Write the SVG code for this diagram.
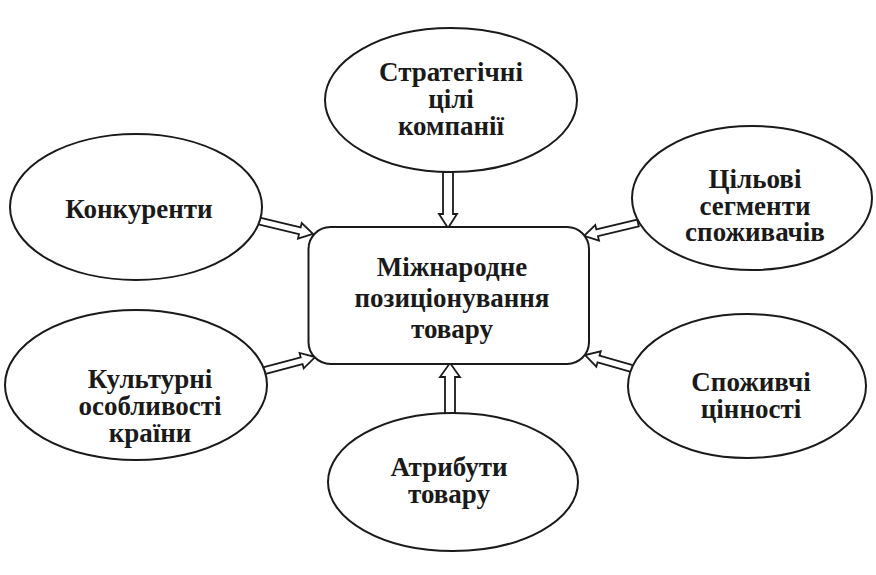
<svg xmlns="http://www.w3.org/2000/svg" width="876" height="575" viewBox="0 0 876 575">
<style>
.sh{fill:#fff;stroke:#1a1a1a;stroke-width:2}
.ar{fill:#fff;stroke:#1a1a1a;stroke-width:1.8;stroke-linejoin:miter}
text{font-family:"Liberation Serif","Times New Roman",serif;font-weight:bold;fill:#1a1a1a;text-anchor:middle;font-size:27px}
</style>
<rect width="876" height="575" fill="#fff"/>
<g id="connectors">
<path class="ar" transform="translate(448,172) rotate(90)" d="M0,-5 L42,-5 L42,-9 L56,0 L42,9 L42,5 L0,5 Z"/>
<path class="ar" transform="translate(450,415) rotate(-90)" d="M0,-5 L38,-5 L38,-10 L52,0 L38,10 L38,5 L0,5 Z"/>
<path class="ar" transform="translate(259,221) rotate(13.5)" d="M0,-3.5 L42,-3.5 L42,-8 L55.5,0 L42,8 L42,3.5 L0,3.5 Z"/>
<path class="ar" transform="translate(638,223) rotate(166.5)" d="M0,-3.5 L42,-3.5 L42,-8 L55.5,0 L42,8 L42,3.5 L0,3.5 Z"/>
<path class="ar" transform="translate(263,371) rotate(-15)" d="M0,-3.5 L40,-3.5 L40,-8 L54,0 L40,8 L40,3.5 L0,3.5 Z"/>
<path class="ar" transform="translate(637,370) rotate(-164)" d="M0,-3.5 L40,-3.5 L40,-8 L54,0 L40,8 L40,3.5 L0,3.5 Z"/>
</g>
<g id="center">
<rect class="sh" x="308.5" y="227" width="280.5" height="137" rx="22"/>
<text x="452" y="276">Міжнародне</text>
<text x="452" y="307">позиціонування</text>
<text x="452" y="338">товару</text>
</g>
<g id="strategic">
<ellipse class="sh" cx="451" cy="100" rx="126" ry="72"/>
<text x="451" y="81">Стратегічні</text>
<text x="451" y="108">цілі</text>
<text x="451" y="135">компанії</text>
</g>
<g id="competitors">
<ellipse class="sh" cx="136" cy="207" rx="126" ry="73"/>
<text x="139" y="218">Конкуренти</text>
</g>
<g id="segments">
<ellipse class="sh" cx="752" cy="198" rx="120" ry="72"/>
<text x="755" y="188">Цільові</text>
<text x="755" y="215">сегменти</text>
<text x="755" y="241">споживачів</text>
</g>
<g id="culture">
<ellipse class="sh" cx="136" cy="385" rx="131" ry="75"/>
<text x="150" y="388">Культурні</text>
<text x="150" y="415">особливості</text>
<text x="150" y="442">країни</text>
</g>
<g id="values">
<ellipse class="sh" cx="747" cy="386" rx="119" ry="72"/>
<text x="751" y="391">Споживчі</text>
<text x="751" y="418">цінності</text>
</g>
<g id="attributes">
<ellipse class="sh" cx="453" cy="482" rx="125" ry="69"/>
<text x="449" y="476">Атрибути</text>
<text x="449" y="503">товару</text>
</g>
</svg>
